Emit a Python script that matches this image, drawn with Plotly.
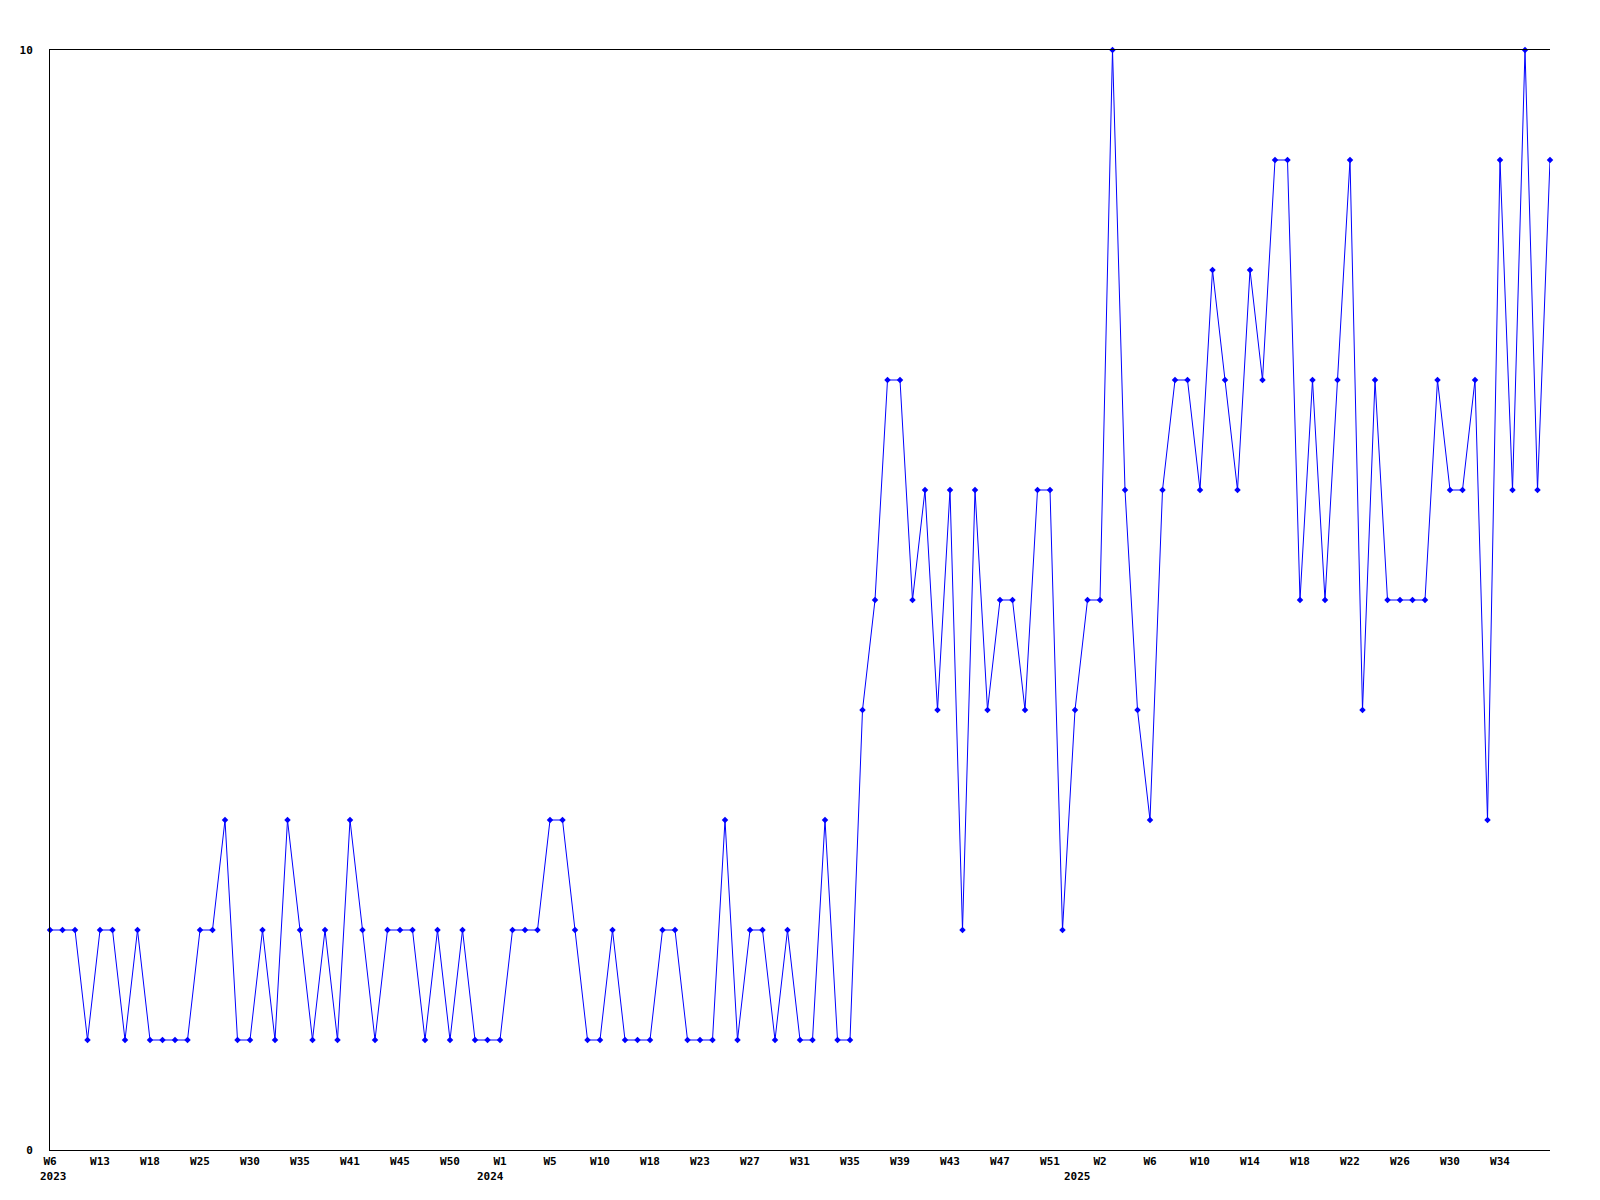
"""Weekly count line chart, 2023-2025."""

import plotly.graph_objects as go

# -- data --
counts = [
    2, 2, 2, 1, 2, 2, 1, 2, 1, 1, 1, 1, 2, 2, 3, 1, 1, 2, 1, 3,
    2, 1, 2, 1, 3, 2, 1, 2, 2, 2, 1, 2, 1, 2, 1, 1, 1, 2, 2, 2,
    3, 3, 2, 1, 1, 2, 1, 1, 1, 2, 2, 1, 1, 1, 3, 1, 2, 2, 1, 2,
    1, 1, 3, 1, 1, 4, 5, 7, 7, 5, 6, 4, 6, 2, 6, 4, 5, 5, 4, 6,
    6, 2, 4, 5, 5, 10, 6, 4, 3, 6, 7, 7, 6, 8, 7, 6, 8, 7, 9, 9,
    5, 7, 5, 7, 9, 4, 7, 5, 5, 5, 5, 7, 6, 6, 7, 3, 9, 6, 10, 6,
    9,
]
week_labels = [
    "W6", "W13", "W18", "W25", "W30", "W35", "W41", "W45", "W50", "W1",
    "W5", "W10", "W18", "W23", "W27", "W31", "W35", "W39", "W43", "W47",
    "W51", "W2", "W6", "W10", "W14", "W18", "W22", "W26", "W30", "W34",
]
label_step = 4
years = ["2023", "2024", "2025"]
year_pos = [0.3, 35.2, 82.2]

FONT = dict(family="DejaVu Sans Mono", size=11, color="#000000", weight="bold")

x = list(range(len(counts)))

fig = go.Figure(go.Scatter(
    x=x, y=counts,
    mode="lines+markers",
    line=dict(color="#0000ff", width=1),
    marker=dict(symbol="diamond", size=5, color="#0000ff"),
    cliponaxis=False,
    showlegend=False,
))

for yr, pos in zip(years, year_pos):
    fig.add_annotation(
        x=pos, y=0, xref="x", yref="paper",
        text=yr, showarrow=False,
        yanchor="top", xanchor="center",
        yshift=-18, font=FONT,
    )

# the page body adds an 8px offset, so margins are shifted to compensate
fig.update_layout(
    width=1600, height=1200,
    paper_bgcolor="#ffffff",
    plot_bgcolor="#ffffff",
    margin=dict(l=42, r=58, t=42, b=58, autoexpand=False),
    font=FONT,
    xaxis=dict(
        range=[0, len(counts) - 1],
        tickvals=x[::label_step][:len(week_labels)],
        ticktext=week_labels,
        tickangle=0,
        showgrid=False, zeroline=False,
        showline=True, linecolor="#000000", linewidth=1, mirror=True,
        ticks="", ticklabelstandoff=1,
        tickfont=FONT,
    ),
    yaxis=dict(
        range=[0, 10],
        tickvals=[0, 10],
        showgrid=False, zeroline=False,
        showline=True, linecolor="#000000", linewidth=1,
        ticks="", ticklabelstandoff=14,
        tickfont=FONT,
    ),
)

fig.write_html("out.html")
